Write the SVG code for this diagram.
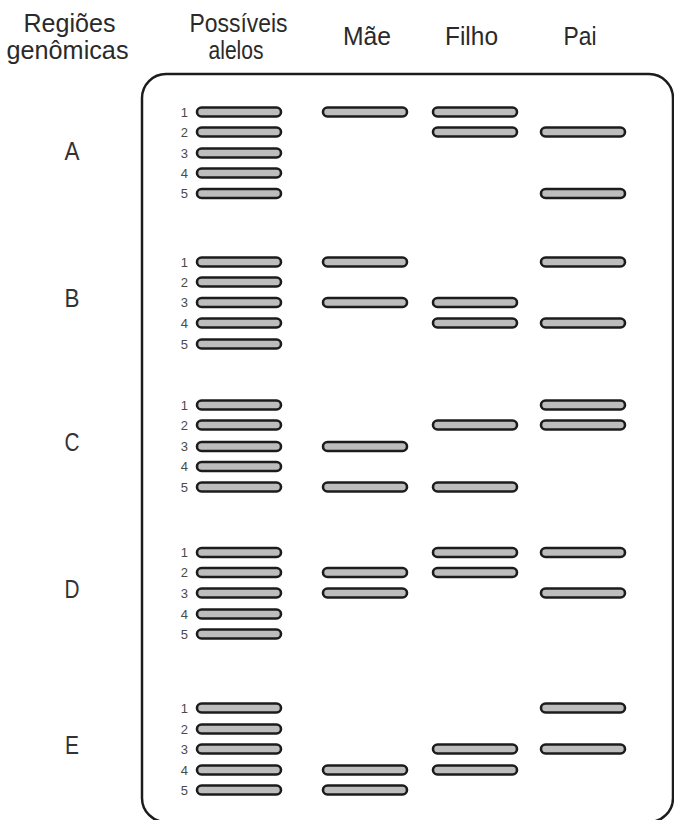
<svg xmlns="http://www.w3.org/2000/svg" xmlns:xlink="http://www.w3.org/1999/xlink" width="674" height="820" viewBox="0 0 674 820">
<style>
.hdr{font-family:"Liberation Sans",Arial,sans-serif;font-size:25px;fill:#2a2a2a;text-anchor:middle}
.reg{font-family:"Liberation Sans",Arial,sans-serif;font-size:25px;fill:#333;text-anchor:middle}
.num{font-family:"Liberation Sans",Arial,sans-serif;font-size:13px;fill:#4a4a4a;text-anchor:end}
.band{fill:#bdbdbd;stroke:#1c1c1c;stroke-width:2.6}
.frame{fill:none;stroke:#1c1c1c;stroke-width:2.5}
</style>
<defs>
<rect id="b" class="band" x="0" y="-4.5" width="84" height="9" rx="4.5"/>
</defs>
<rect width="674" height="820" fill="#fff"/>
<g id="headers">
<text class="hdr" x="69.5" y="32" textLength="92" lengthAdjust="spacingAndGlyphs">Regiões</text>
<text class="hdr" x="67.5" y="59" textLength="122" lengthAdjust="spacingAndGlyphs">genômicas</text>
<text class="hdr" x="238.5" y="32" textLength="98" lengthAdjust="spacingAndGlyphs">Possíveis</text>
<text class="hdr" x="236" y="59" textLength="55" lengthAdjust="spacingAndGlyphs">alelos</text>
<text class="hdr" x="367" y="45" textLength="48" lengthAdjust="spacingAndGlyphs">Mãe</text>
<text class="hdr" x="471.5" y="45" textLength="53" lengthAdjust="spacingAndGlyphs">Filho</text>
<text class="hdr" x="580" y="45" textLength="33" lengthAdjust="spacingAndGlyphs">Pai</text>
</g>
<g id="frame">
<rect class="frame" x="142" y="74" width="531" height="748" rx="24"/>
</g>
<g id="region-A">
<text class="reg" x="72" y="160" textLength="15" lengthAdjust="spacingAndGlyphs">A</text>
<text class="num" x="188" y="116.5">1</text><text class="num" x="188" y="136.5">2</text><text class="num" x="188" y="157.5">3</text><text class="num" x="188" y="177.5">4</text><text class="num" x="188" y="198">5</text>
<use xlink:href="#b" x="197" y="112"/><use xlink:href="#b" x="197" y="132"/><use xlink:href="#b" x="197" y="153"/><use xlink:href="#b" x="197" y="173"/><use xlink:href="#b" x="197" y="193.5"/>
<use xlink:href="#b" x="323" y="112"/>
<use xlink:href="#b" x="433" y="112"/><use xlink:href="#b" x="433" y="132"/>
<use xlink:href="#b" x="541" y="132"/><use xlink:href="#b" x="541" y="193.5"/>
</g>
<g id="region-B">
<text class="reg" x="72" y="307" textLength="15" lengthAdjust="spacingAndGlyphs">B</text>
<text class="num" x="188" y="266.5">1</text><text class="num" x="188" y="286.5">2</text><text class="num" x="188" y="307">3</text><text class="num" x="188" y="327.5">4</text><text class="num" x="188" y="348.5">5</text>
<use xlink:href="#b" x="197" y="262"/><use xlink:href="#b" x="197" y="282"/><use xlink:href="#b" x="197" y="302.5"/><use xlink:href="#b" x="197" y="323"/><use xlink:href="#b" x="197" y="344"/>
<use xlink:href="#b" x="323" y="262"/><use xlink:href="#b" x="323" y="302.5"/>
<use xlink:href="#b" x="433" y="302.5"/><use xlink:href="#b" x="433" y="323"/>
<use xlink:href="#b" x="541" y="262"/><use xlink:href="#b" x="541" y="323"/>
</g>
<g id="region-C">
<text class="reg" x="72" y="451" textLength="15" lengthAdjust="spacingAndGlyphs">C</text>
<text class="num" x="188" y="409.5">1</text><text class="num" x="188" y="429.5">2</text><text class="num" x="188" y="451">3</text><text class="num" x="188" y="471">4</text><text class="num" x="188" y="491.5">5</text>
<use xlink:href="#b" x="197" y="405"/><use xlink:href="#b" x="197" y="425"/><use xlink:href="#b" x="197" y="446.5"/><use xlink:href="#b" x="197" y="466.5"/><use xlink:href="#b" x="197" y="487"/>
<use xlink:href="#b" x="323" y="446.5"/><use xlink:href="#b" x="323" y="487"/>
<use xlink:href="#b" x="433" y="425"/><use xlink:href="#b" x="433" y="487"/>
<use xlink:href="#b" x="541" y="405"/><use xlink:href="#b" x="541" y="425"/>
</g>
<g id="region-D">
<text class="reg" x="72" y="598" textLength="15" lengthAdjust="spacingAndGlyphs">D</text>
<text class="num" x="188" y="557">1</text><text class="num" x="188" y="577">2</text><text class="num" x="188" y="597.5">3</text><text class="num" x="188" y="618.5">4</text><text class="num" x="188" y="638.5">5</text>
<use xlink:href="#b" x="197" y="552.5"/><use xlink:href="#b" x="197" y="572.5"/><use xlink:href="#b" x="197" y="593"/><use xlink:href="#b" x="197" y="614"/><use xlink:href="#b" x="197" y="634"/>
<use xlink:href="#b" x="323" y="572.5"/><use xlink:href="#b" x="323" y="593"/>
<use xlink:href="#b" x="433" y="552.5"/><use xlink:href="#b" x="433" y="572.5"/>
<use xlink:href="#b" x="541" y="552.5"/><use xlink:href="#b" x="541" y="593"/>
</g>
<g id="region-E">
<text class="reg" x="72" y="754" textLength="14" lengthAdjust="spacingAndGlyphs">E</text>
<text class="num" x="188" y="712.5">1</text><text class="num" x="188" y="733.5">2</text><text class="num" x="188" y="753.5">3</text><text class="num" x="188" y="774.5">4</text><text class="num" x="188" y="794.5">5</text>
<use xlink:href="#b" x="197" y="708"/><use xlink:href="#b" x="197" y="729"/><use xlink:href="#b" x="197" y="749"/><use xlink:href="#b" x="197" y="770"/><use xlink:href="#b" x="197" y="790"/>
<use xlink:href="#b" x="323" y="770"/><use xlink:href="#b" x="323" y="790"/>
<use xlink:href="#b" x="433" y="749"/><use xlink:href="#b" x="433" y="770"/>
<use xlink:href="#b" x="541" y="708"/><use xlink:href="#b" x="541" y="749"/>
</g>
</svg>
